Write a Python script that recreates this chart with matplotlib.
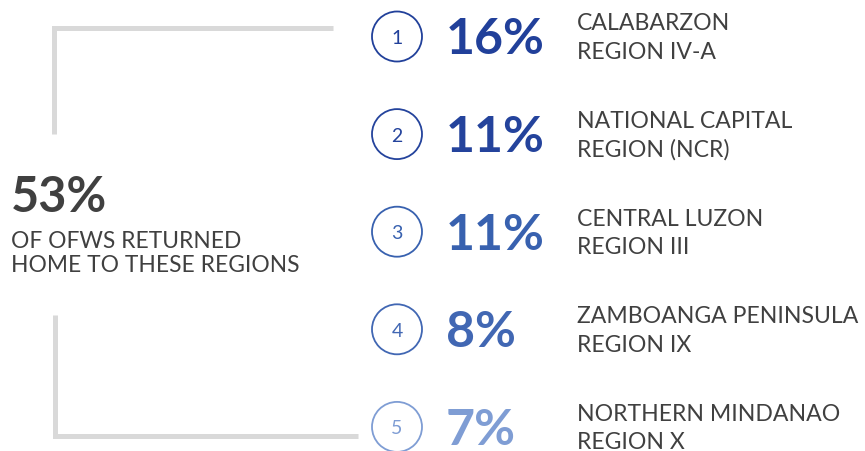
import matplotlib
matplotlib.use('Agg')
import matplotlib.pyplot as plt
from matplotlib.patches import Circle

# data
ranks = [1, 2, 3, 4, 5]
shares = [16, 11, 11, 8, 7]
region_names = ["CALABARZON", "NATIONAL CAPITAL", "CENTRAL LUZON",
                "ZAMBOANGA PENINSULA", "NORTHERN MINDANAO"]
region_codes = ["REGION IV-A", "REGION (NCR)", "REGION III", "REGION IX", "REGION X"]
total_share = 53
total_lines = ["OF OFWS RETURNED", "HOME TO THESE REGIONS"]

colors = ["#21409a", "#24439c", "#3861af", "#4167b3", "#7f9dd4"]
gray_text = "#404040"
bracket_gray = "#d9d9d9"

W, H = 865, 452
fig = plt.figure(figsize=(W / 100, H / 100), dpi=100)
ax = fig.add_axes([0, 0, 1, 1])
ax.set_xlim(0, W)
ax.set_ylim(H, 0)
ax.axis('off')

font = 'Lato'

# bracket
ax.plot([333, 54, 54], [29, 29, 135], color=bracket_gray, lw=3.6,
        solid_capstyle='butt', solid_joinstyle='miter')
ax.plot([55, 55, 358], [316, 437, 437], color=bracket_gray, lw=3.6,
        solid_capstyle='butt', solid_joinstyle='miter')

# left summary
ax.text(11, 212, "%d%%" % total_share, fontsize=35, fontweight='bold',
        color=gray_text, family=font, va='baseline', ha='left')
for j, line in enumerate(total_lines):
    ax.text(11, 248 + j * 24, line, fontsize=16.4, color=gray_text,
            family=font, va='baseline', ha='left')

row0 = 37.5
step = 97.6
for i, (r, s, n, c) in enumerate(zip(ranks, shares, region_names, region_codes)):
    cy = row0 + i * step
    col = colors[i]
    ax.add_patch(Circle((397, cy), 25, fill=False, ec=col, lw=1.3))
    ax.text(397, cy + 1, str(r), fontsize=14, color=col, family=font,
            ha='center', va='center')
    ax.text(446, cy + 17, "%d%%" % s, fontsize=36, fontweight='bold',
            color=col, family=font, ha='left', va='baseline')
    ax.text(577, cy - 7, n, fontsize=16.6, color=gray_text, family=font,
            ha='left', va='baseline')
    ax.text(577, cy + 21.5, c, fontsize=16.6, color=gray_text, family=font,
            ha='left', va='baseline')

fig.savefig('out.png', dpi=100)
